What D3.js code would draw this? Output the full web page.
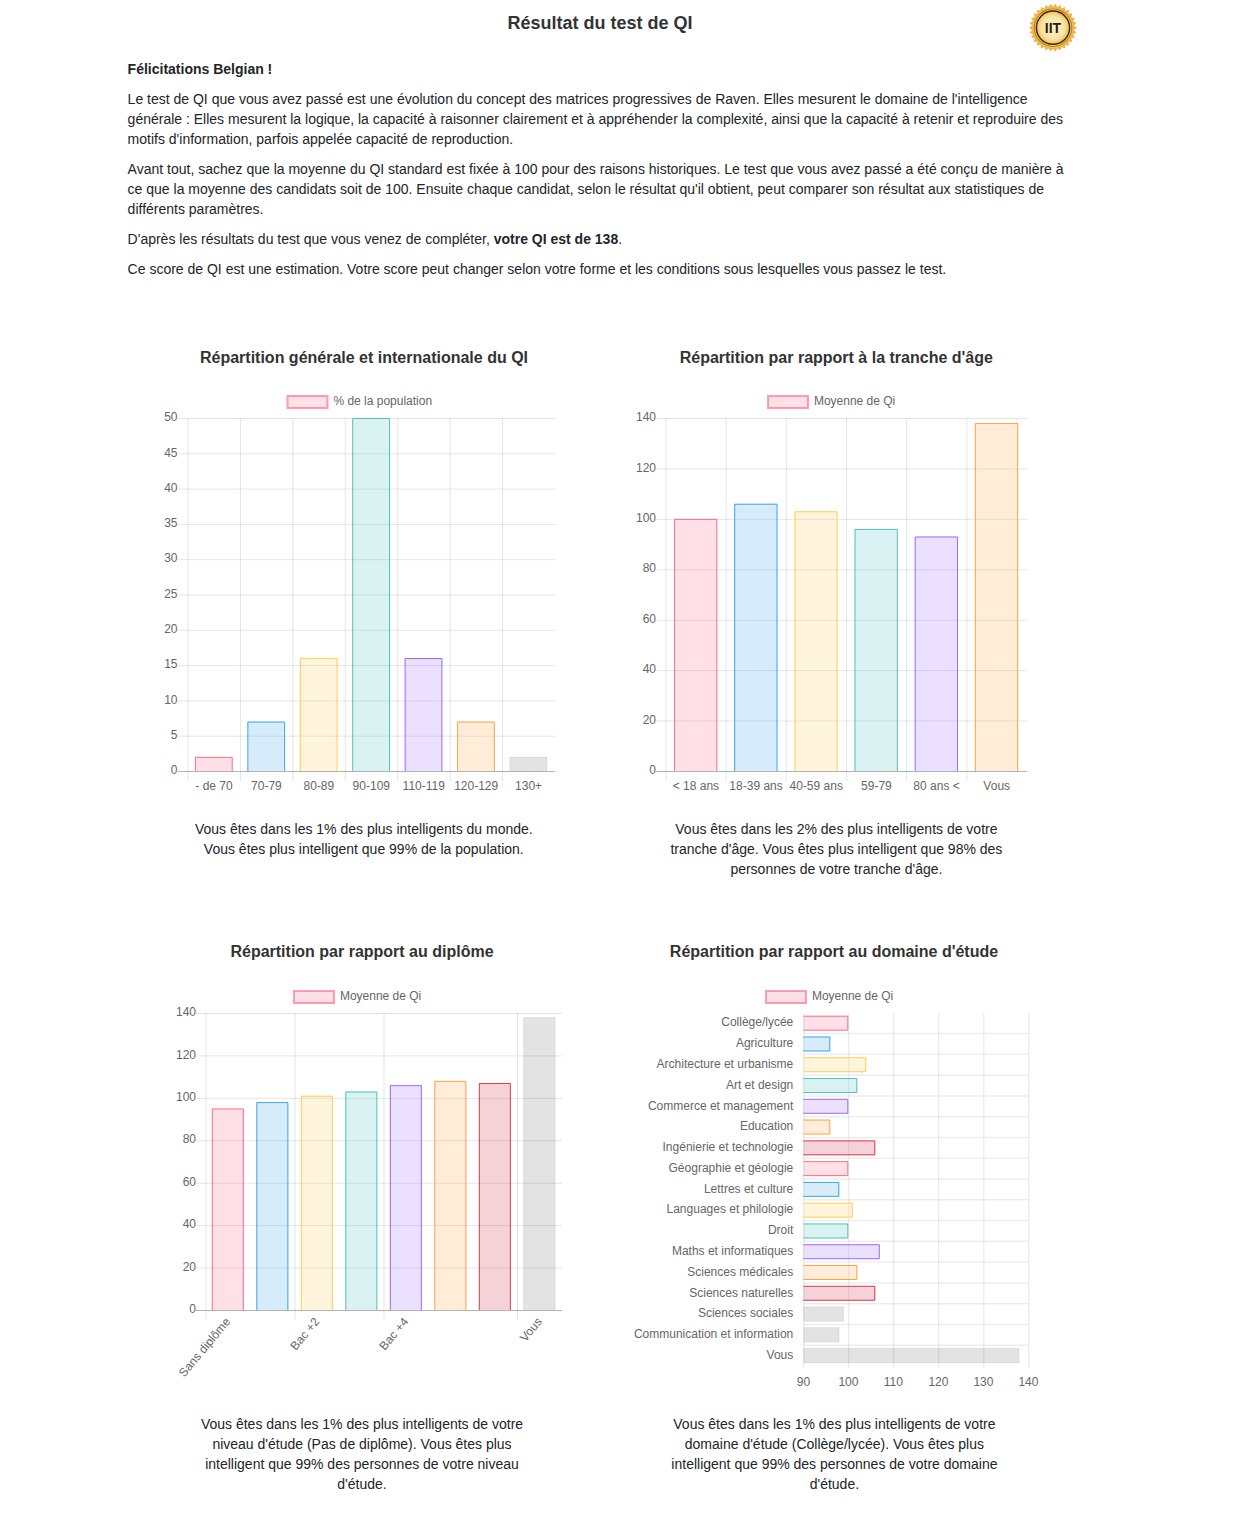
<!DOCTYPE html>
<html lang="fr"><head><meta charset="utf-8">
<script src="https://d3js.org/d3.v7.min.js"></script>
<style>
html,body{margin:0;padding:0;background:#fff;}
body{width:1245px;height:1531px;overflow:hidden;position:relative;}
svg{position:absolute;left:0;top:0;}
text{font-family:"Liberation Sans",Arial,sans-serif;}
.axis text,.leg{font-size:12px;fill:#666;}
.body{font-size:14px;fill:#212529;}
.cap{font-size:14px;fill:#212529;text-anchor:middle;}
.h{font-size:16px;font-weight:bold;fill:#333;text-anchor:middle;}
</style></head><body>
<svg id="c" width="1245" height="1531"></svg>
<script>
const pageTitle = "Résultat du test de QI";
const introLines = [
  [[ "Félicitations Belgian !", true ]],
  [[ "Le test de QI que vous avez passé est une évolution du concept des matrices progressives de Raven. Elles mesurent le domaine de l'intelligence", false ]],
  [[ "générale : Elles mesurent la logique, la capacité à raisonner clairement et à appréhender la complexité, ainsi que la capacité à retenir et reproduire des", false ]],
  [[ "motifs d'information, parfois appelée capacité de reproduction.", false ]],
  [[ "Avant tout, sachez que la moyenne du QI standard est fixée à 100 pour des raisons historiques. Le test que vous avez passé a été conçu de manière à", false ]],
  [[ "ce que la moyenne des candidats soit de 100. Ensuite chaque candidat, selon le résultat qu'il obtient, peut comparer son résultat aux statistiques de", false ]],
  [[ "différents paramètres.", false ]],
  [[ "D'après les résultats du test que vous venez de compléter, ", false ], [ "votre QI est de 138", true ], [ ".", false ]],
  [[ "Ce score de QI est une estimation. Votre score peut changer selon votre forme et les conditions sous lesquelles vous passez le test.", false ]]
];
const introBaselines = [74,104,124,144,174,194,214,244,274];

const cats1 = ["- de 70","70-79","80-89","90-109","110-119","120-129","130+"];
const vals1 = [2,7,16,50,16,7,2];
const cats2 = ["< 18 ans","18-39 ans","40-59 ans","59-79","80 ans <","Vous"];
const vals2 = [100,106,103,96,93,138];
const cats3 = ["Sans diplôme","Bac","Bac +2","Bac +3","Bac +4","Bac +5","Doctorat","Vous"];
const vals3 = [95,98,101,103,106,108,107,138];
const shown3 = ["Sans diplôme","Bac +2","Bac +4","Vous"];
const cats4 = ["Collège/lycée","Agriculture","Architecture et urbanisme","Art et design","Commerce et management","Education","Ingénierie et technologie","Géographie et géologie","Lettres et culture","Languages et philologie","Droit","Maths et informatiques","Sciences médicales","Sciences naturelles","Sciences sociales","Communication et information","Vous"];
const vals4 = [100,96,104,102,100,96,106,100,98,101,100,107,102,106,99,98,138];
const ticks4 = [90,100,110,120,130,140];

const palette = [
  ["rgba(255,99,132,0.2)","rgba(255,99,132,0.9)"],
  ["rgba(54,162,235,0.2)","rgba(54,162,235,0.95)"],
  ["rgba(255,206,86,0.2)","rgba(255,206,86,1)"],
  ["rgba(75,192,192,0.2)","rgba(75,192,192,0.95)"],
  ["rgba(153,102,255,0.2)","rgba(153,102,255,0.95)"],
  ["rgba(255,159,64,0.2)","rgba(255,159,64,0.95)"],
  ["rgba(201,31,55,0.2)","rgba(215,35,60,0.85)"],
  ["rgba(0,0,0,0.11)","rgba(0,0,0,0.04)"]
];
const svg = d3.select("#c");
const GRID = "rgba(0,0,0,0.1)", ZERO = "rgba(0,0,0,0.3)";

/* page text */
svg.append("text").attr("x",600).attr("y",29).attr("text-anchor","middle")
  .style("font-size","18px").style("font-weight","bold").style("fill","#333").text(pageTitle);
introLines.forEach((segs,i)=>{
  const t = svg.append("text").attr("class","body").attr("x",127.6).attr("y",introBaselines[i]);
  segs.forEach(s=>t.append("tspan").style("font-weight",s[1]?"bold":"normal").text(s[0]));
});

/* medal */
(function(){
  const g = svg.append("g").attr("transform","translate(1053,27.7)");
  const defs = svg.append("defs");
  const rg = defs.append("radialGradient").attr("id","mg");
  rg.append("stop").attr("offset","0%").attr("stop-color","#fff4cc");
  rg.append("stop").attr("offset","70%").attr("stop-color","#fbe3a0");
  rg.append("stop").attr("offset","100%").attr("stop-color","#efbd5c");
  const n = 60, pts = d3.range(n).map(i=>[i*2*Math.PI/n, i%2?24:21]);
  g.append("path").attr("d",d3.lineRadial().curve(d3.curveLinearClosed)(pts)).attr("fill","#f0b440");
  g.append("circle").attr("r",20.5).attr("fill","#f3bd50");
  g.append("circle").attr("r",19.3).attr("fill","#b9801f");
  g.append("circle").attr("r",18.2).attr("fill","#f4cd74");
  g.append("circle").attr("r",16.6).attr("fill","url(#mg)").attr("stroke","#3a2a10").attr("stroke-width",1.5);
  g.append("text").attr("text-anchor","middle").attr("y",5.3).style("font-size","14px").style("font-weight","bold").style("fill","#2a2010").text("IIT");
})();

function legend(x,y,label){
  svg.append("rect").attr("x",x+.5).attr("y",y+.5).attr("width",40).attr("height",12)
    .attr("fill",palette[0][0]).attr("stroke","rgb(255,99,132)").attr("stroke-opacity",.6).attr("stroke-width",2);
  svg.append("text").attr("class","leg").attr("x",x+46.4).attr("y",y+9).text(label);
}

function vchart(o){
  const x = d3.scaleBand().domain(o.cats).range([o.l,o.r]);
  const y = d3.scaleLinear().domain([0,o.max]).range([o.b,o.t]);
  const g = svg.append("g");
  const ya = g.append("g").attr("class","axis").attr("transform",`translate(${o.l},0)`)
    .call(d3.axisLeft(y).tickValues(d3.range(0,o.max+1,o.step)).tickSize(6).tickPadding(4));
  ya.select(".domain").remove();
  ya.selectAll(".tick line").attr("stroke",d=>d===0?ZERO:GRID).attr("x1",-10).attr("x2",o.r-o.l);
  ya.selectAll(".tick text").attr("dy",0).attr("y",2.7).attr("x",o.ylx);
  const shown = o.shown||o.cats;
  const xa = g.append("g").attr("class","axis").attr("transform",`translate(-0.2,${o.b})`)
    .call(d3.axisBottom(x).tickValues(shown).tickSize(0).tickPadding(o.rot?8:10.5));
  xa.select(".domain").remove();
  xa.selectAll(".tick line").remove();
  g.selectAll(".vg").data(shown).join("line").attr("class","vg")
    .attr("x1",d=>x(d)).attr("x2",d=>x(d)).attr("y1",o.t).attr("y2",o.b+10).attr("stroke",GRID);
  if(o.rot){
    xa.selectAll(".tick text").attr("text-anchor","end").attr("dy",0).attr("y",0)
      .attr("transform","translate(3,12) rotate(-50)");
  }
  const bw = x.bandwidth()*.72;
  const bars = g.selectAll(".bar").data(o.vals).join("g").attr("class","bar");
  const bx = (i)=>x(o.cats[i])+(x.bandwidth()-bw)/2-0.4;
  bars.append("rect").attr("x",(d,i)=>bx(i)).attr("width",bw)
    .attr("y",d=>y(d)).attr("height",d=>o.b-y(d)).attr("fill",(d,i)=>o.cols[i][0]);
  bars.append("path").attr("fill","none").attr("stroke-width",1).attr("stroke",(d,i)=>o.cols[i][1])
    .attr("d",(d,i)=>{
      const p=d3.path(), a=bx(i)+.5, c=bx(i)+bw-.5, t=y(d)+.5;
      p.moveTo(a,o.b); p.lineTo(a,t); p.lineTo(c,t); p.lineTo(c,o.b); return p.toString();
    });
}
function hchart(o){
  const y = d3.scaleBand().domain(o.cats).range([o.t,o.b]);
  const x = d3.scaleLinear().domain([o.min,o.max]).range([o.l,o.r]);
  const g = svg.append("g");
  const xa = g.append("g").attr("class","axis").attr("transform",`translate(0,${o.b})`)
    .call(d3.axisBottom(x).tickValues(o.ticks).tickSize(6).tickPadding(5));
  xa.select(".domain").remove();
  xa.selectAll(".tick line").attr("stroke",GRID).attr("y1",2).attr("y2",o.t-o.b);
  xa.selectAll(".tick text").attr("x",-0.4);
  const ya = g.append("g").attr("class","axis").attr("transform",`translate(${o.l},-0.6)`)
    .call(d3.axisLeft(y).tickSize(0).tickPadding(10));
  ya.select(".domain").remove();
  g.selectAll(".hg").data(o.cats.slice(0,-1)).join("line").attr("class","hg")
    .attr("x1",o.l).attr("x2",o.r).attr("y1",d=>y(d)+y.bandwidth()).attr("y2",d=>y(d)+y.bandwidth())
    .attr("stroke","rgba(0,0,0,0.07)").attr("stroke-width",1.5);
  const bh = y.bandwidth()*.72;
  const bars = g.selectAll(".bar").data(o.vals).join("g").attr("class","bar");
  const by = i=>y(o.cats[i])+(y.bandwidth()-bh)/2;
  bars.append("rect").attr("x",o.l).attr("width",d=>x(d)-o.l)
    .attr("y",(d,i)=>by(i)).attr("height",bh).attr("fill",(d,i)=>o.cols[i][0]);
  bars.append("path").attr("fill","none").attr("stroke-width",1).attr("stroke",(d,i)=>o.cols[i][1])
    .attr("d",(d,i)=>{
      const p=d3.path(), t=by(i)+.5, b=by(i)+bh-.5, r=x(d)-.5;
      p.moveTo(o.l,t); p.lineTo(r,t); p.lineTo(r,b); p.lineTo(o.l,b); return p.toString();
    });
}
function heading(x,y,t){svg.append("text").attr("class","h").attr("x",x).attr("y",y).text(t);}
function caption(x,y,lines){lines.forEach((s,i)=>svg.append("text").attr("class","cap").attr("x",x).attr("y",y+i*20).text(s));}

const cycle = n => d3.range(n).map(i=>palette[i%palette.length]);
const grey = palette[7];

heading(364,363,"Répartition générale et internationale du QI");
legend(287,395.5,"% de la population");
vchart({cats:cats1,vals:vals1,l:188,r:555,t:418,b:771,max:50,step:5,ylx:-10.5,cols:[...cycle(6),grey]});
caption(363.8,834,["Vous êtes dans les 1% des plus intelligents du monde.","Vous êtes plus intelligent que 99% de la population."]);

heading(836.3,363,"Répartition par rapport à la tranche d'âge");
legend(767.5,395.5,"Moyenne de Qi");
vchart({cats:cats2,vals:vals2,l:666,r:1027,t:418,b:771,max:140,step:20,ylx:-10,cols:cycle(6)});
caption(836.4,834,["Vous êtes dans les 2% des plus intelligents de votre","tranche d'âge. Vous êtes plus intelligent que 98% des","personnes de votre tranche d'âge."]);

heading(362,957,"Répartition par rapport au diplôme");
legend(293.5,990.5,"Moyenne de Qi");
vchart({cats:cats3,vals:vals3,shown:shown3,rot:true,l:206,r:562,t:1013,b:1310,max:140,step:20,ylx:-10,cols:cycle(8)});
caption(362,1429,["Vous êtes dans les 1% des plus intelligents de votre","niveau d'étude (Pas de diplôme). Vous êtes plus","intelligent que 99% des personnes de votre niveau","d'étude."]);

heading(834,957,"Répartition par rapport au domaine d'étude");
legend(765.5,990.5,"Moyenne de Qi");
hchart({cats:cats4,vals:vals4,ticks:ticks4,l:803.3,r:1028.3,t:1012.8,b:1366,min:90,max:140,
  cols:[...cycle(7),...cycle(7),grey,grey,grey]});
caption(834.4,1429,["Vous êtes dans les 1% des plus intelligents de votre","domaine d'étude (Collège/lycée). Vous êtes plus","intelligent que 99% des personnes de votre domaine","d'étude."]);
</script>
</body></html>
